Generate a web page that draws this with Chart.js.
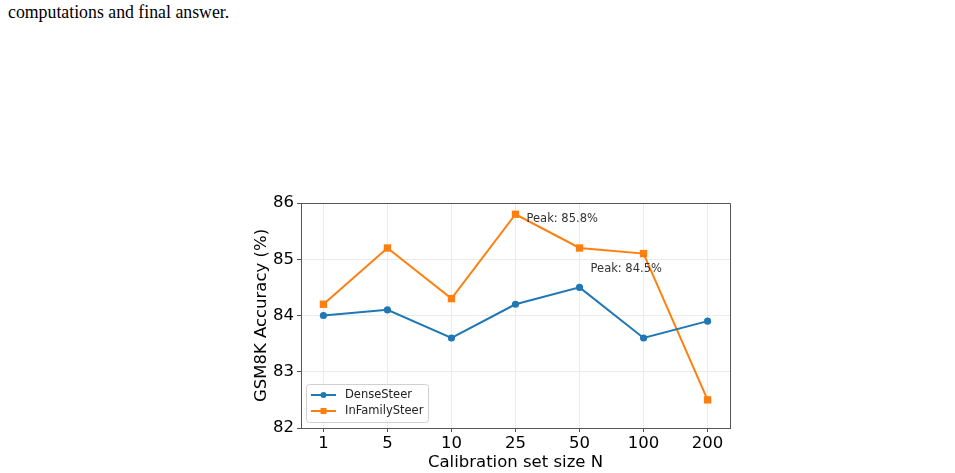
<!DOCTYPE html>
<html>
<head>
<meta charset="utf-8">
<script src="https://cdn.jsdelivr.net/npm/chart.js@4/dist/chart.umd.min.js"></script>
<style>
  html, body { margin: 0; padding: 0; background: #fff; width: 955px; height: 473px; overflow: hidden; }
  #caption { position: absolute; left: 8px; top: 1px; font-family: "Liberation Serif", "DejaVu Serif", serif; font-size: 17.8px; line-height: 22px; color: #000; white-space: nowrap; }
  #wrap { position: absolute; left: 0; top: 0; width: 955px; height: 473px; }
</style>
</head>
<body>
<div id="caption">computations and final answer.</div>
<div id="wrap"><canvas id="c" width="955" height="473"></canvas></div>
<script>
const categories = ["1", "5", "10", "25", "50", "100", "200"];
const denseSteer = [84.0, 84.1, 83.6, 84.2, 84.5, 83.6, 83.9];
const inFamilySteer = [84.2, 85.2, 84.3, 85.8, 85.2, 85.1, 82.5];
const yTicks = [82, 83, 84, 85, 86];
const seriesNames = ["DenseSteer", "InFamilySteer"];

const BLUE = '#1f77b4', ORANGE = '#ff7f0e';
const FONT = "'DejaVu Sans', sans-serif";

const toPts = arr => arr.map((v, i) => ({ x: i, y: v }));

const framePlugin = {
  id: 'frame',
  afterDatasetsDraw(chart) {
    const { ctx, chartArea: a } = chart;
    ctx.save();
    // top & right spines
    ctx.strokeStyle = '#555';
    ctx.lineWidth = 1;
    ctx.beginPath();
    ctx.moveTo(a.left, a.top + 0.5);
    ctx.lineTo(a.right + 0.5, a.top + 0.5);
    ctx.lineTo(a.right + 0.5, a.bottom);
    ctx.stroke();

    // Peak annotations
    const xs = chart.scales.x, ys = chart.scales.y;
    const offsets = [[11, -18], [11, 5]];
    chart.data.datasets.forEach((ds, di) => {
      const vals = ds.data.map(p => p.y);
      const mx = Math.max(...vals);
      const idx = vals.indexOf(mx);
      const px = xs.getPixelForValue(idx) + offsets[di][0];
      const py = ys.getPixelForValue(mx) + offsets[di][1];
      ctx.font = "11.5px " + FONT;
      ctx.fillStyle = '#333';
      ctx.textAlign = 'left';
      ctx.textBaseline = 'middle';
      ctx.fillText('Peak: ' + mx.toFixed(1) + '%', px, py);
    });

    // Legend (lower left inside axes)
    const lx = a.left + 5, lw = 122, lh = 38;
    const ly = a.bottom - 6 - lh;
    ctx.fillStyle = 'rgba(255,255,255,0.85)';
    ctx.strokeStyle = '#d0d0d0';
    ctx.lineWidth = 1;
    ctx.beginPath();
    if (ctx.roundRect) ctx.roundRect(lx + 0.5, ly + 0.5, lw, lh, 3); else ctx.rect(lx + 0.5, ly + 0.5, lw, lh);
    ctx.fill();
    ctx.stroke();
    chart.data.datasets.forEach((ds, di) => {
      const cy = ly + 11 + di * 16;
      ctx.strokeStyle = ds.borderColor;
      ctx.lineWidth = 2;
      ctx.beginPath();
      ctx.moveTo(lx + 5, cy);
      ctx.lineTo(lx + 30, cy);
      ctx.stroke();
      ctx.fillStyle = ds.borderColor;
      const mx = lx + 17.5;
      if (ds.pointStyle === 'rect') {
        ctx.fillRect(mx - 3, cy - 3, 6, 6);
      } else {
        ctx.beginPath();
        ctx.arc(mx, cy, 3, 0, Math.PI * 2);
        ctx.fill();
      }
      ctx.fillStyle = '#222';
      ctx.font = "11.5px " + FONT;
      ctx.textAlign = 'left';
      ctx.textBaseline = 'middle';
      ctx.fillText(ds.label, lx + 39, cy);
    });
    ctx.restore();
  }
};

new Chart(document.getElementById('c'), {
  type: 'line',
  data: {
    datasets: [
      { label: seriesNames[0], data: toPts(denseSteer), borderColor: BLUE, backgroundColor: BLUE,
        borderWidth: 2, pointStyle: 'circle', pointRadius: 3.6, pointHoverRadius: 3.6, pointBorderWidth: 0, tension: 0 },
      { label: seriesNames[1], data: toPts(inFamilySteer), borderColor: ORANGE, backgroundColor: ORANGE,
        borderWidth: 2, pointStyle: 'rect', pointRadius: 5.2, pointHoverRadius: 5.2, pointBorderWidth: 0, tension: 0 }
    ]
  },
  options: {
    responsive: false,
    animation: false,
    devicePixelRatio: 1,
    layout: { padding: { left: 248, top: 203, right: 225, bottom: 0 } },
    plugins: { legend: { display: false }, tooltip: { enabled: false } },
    scales: {
      x: {
        type: 'linear',
        min: -0.35, max: categories.length - 1 + 0.35,
        afterBuildTicks(scale) { scale.ticks = categories.map((c, i) => ({ value: i })); },
        afterFit(scale) { scale.height = 45; },
        ticks: {
          callback: (v) => categories[v],
          color: '#000', font: { family: FONT, size: 16.5 }, padding: 2, maxRotation: 0, autoSkip: false
        },
        grid: { color: '#ebebeb', lineWidth: 1, tickLength: 4, tickColor: '#555', drawTicks: true },
        border: { color: '#555', width: 1 },
        title: { display: true, text: 'Calibration set size N', color: '#000', font: { family: FONT, size: 16.5 }, padding: { top: 0, bottom: 0 } }
      },
      y: {
        min: 82, max: 86,
        afterBuildTicks(scale) { scale.ticks = yTicks.map(v => ({ value: v })); },
        afterFit(scale) { scale.width = 53; },
        ticks: { color: '#000', font: { family: FONT, size: 16.5 }, padding: 3 },
        grid: { color: '#ebebeb', lineWidth: 1, tickLength: 4, tickColor: '#555', drawTicks: true },
        border: { color: '#555', width: 1 },
        title: { display: true, text: 'GSM8K Accuracy (%)', color: '#000', font: { family: FONT, size: 16.5 }, padding: { top: 4, bottom: 4 } }
      }
    }
  },
  plugins: [framePlugin]
});
</script>
</body>
</html>
